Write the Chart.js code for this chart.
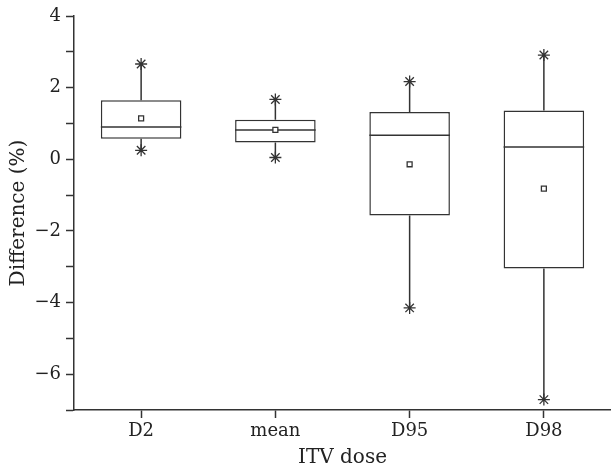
<!DOCTYPE html>
<html>
<head>
<meta charset="utf-8">
<script src="https://cdn.jsdelivr.net/npm/chart.js@4.4.1/dist/chart.umd.min.js"></script>
<style>
  html, body { margin: 0; padding: 0; background: #fff; }
  #wrap { width: 611px; height: 470px; }
</style>
</head>
<body>
<div id="wrap"><canvas id="boxChart" width="611" height="470"></canvas></div>
<script>
// Datos
const categories = ['D2', 'mean', 'D95', 'D98'];
const minValues = [0.25, 0.05, -4.15, -6.71];
const q1Values = [0.57, 0.47, -1.57, -3.05];
const medianValues = [0.9, 0.82, 0.67, 0.34];
const q3Values = [1.65, 1.10, 1.32, 1.36];
const maxValues = [2.66, 1.67, 2.17, 2.91];
const meanValues = [1.14, 0.82, -0.14, -0.82];
const yTickLabels = [-6, -4, -2, 0, 2, 4];

const lineColor = '#333';
const textColor = '#222';
const serif = "'DejaVu Serif', serif";

// Bigotes y medianas dibujados con las escalas del gráfico
const boxLines = {
    id: 'boxLines',
    beforeDatasetsDraw(chart) {
        const meta = chart.getDatasetMeta(chart.data.datasets.length - 1);
        const y = chart.scales.y;
        const ctx = chart.ctx;
        ctx.save();
        ctx.strokeStyle = lineColor;
        ctx.lineWidth = 1.5;
        meta.data.forEach((bar, i) => {
            ctx.beginPath();
            ctx.moveTo(bar.x, y.getPixelForValue(q3Values[i]));
            ctx.lineTo(bar.x, y.getPixelForValue(maxValues[i]));
            ctx.moveTo(bar.x, y.getPixelForValue(q1Values[i]));
            ctx.lineTo(bar.x, y.getPixelForValue(minValues[i]));
            ctx.stroke();
        });
        ctx.restore();
    },
    afterDatasetDraw(chart, args) {
        if (args.meta.type !== 'bar') return;
        const y = chart.scales.y;
        const ctx = chart.ctx;
        ctx.save();
        ctx.strokeStyle = lineColor;
        ctx.lineWidth = 1.5;
        args.meta.data.forEach((bar, i) => {
            const py = y.getPixelForValue(medianValues[i]);
            ctx.beginPath();
            ctx.moveTo(bar.x - bar.width / 2, py);
            ctx.lineTo(bar.x + bar.width / 2, py);
            ctx.stroke();
        });
        ctx.restore();
    }
};

new Chart(document.getElementById('boxChart'), {
    data: {
        labels: categories,
        datasets: [
            {
                type: 'line',
                data: meanValues,
                showLine: false,
                pointStyle: 'rect',
                pointRadius: 3.5,
                backgroundColor: '#fff',
                borderColor: lineColor,
                pointBorderWidth: 1.3,
                order: 1
            },
            {
                type: 'line',
                data: maxValues,
                showLine: false,
                pointStyle: 'star',
                pointRadius: 6,
                borderColor: lineColor,
                pointBorderWidth: 1.3,
                order: 2
            },
            {
                type: 'line',
                data: minValues,
                showLine: false,
                pointStyle: 'star',
                pointRadius: 6,
                borderColor: lineColor,
                pointBorderWidth: 1.3,
                order: 2
            },
            {
                type: 'bar',
                data: categories.map((c, i) => [q1Values[i], q3Values[i]]),
                backgroundColor: '#fff',
                borderColor: lineColor,
                borderWidth: 1.5,
                borderSkipped: false,
                barPercentage: 0.6,
                categoryPercentage: 1,
                order: 3
            }
        ]
    },
    options: {
        responsive: false,
        animation: false,
        layout: { autoPadding: false, padding: { top: 16, right: 0, left: 0, bottom: 0 } },
        plugins: {
            legend: { display: false },
            tooltip: { enabled: false }
        },
        scales: {
            x: {
                type: 'category',
                offset: true,
                grid: {
                    offset: false,
                    drawOnChartArea: false,
                    drawTicks: true,
                    tickLength: 8,
                    tickColor: lineColor,
                    tickWidth: 1.5
                },
                border: { display: true, color: lineColor, width: 1.5 },
                ticks: { color: textColor, font: { family: serif, size: 18 }, padding: 3 },
                title: {
                    display: true,
                    text: 'ITV dose',
                    color: textColor,
                    font: { family: serif, size: 20 },
                    padding: { top: 0, bottom: 0 }
                },
                afterFit: (scale) => {
                    scale.height = 60;
                    scale.paddingLeft = 0;
                    scale.paddingRight = 0;
                }
            },
            y: {
                min: -7,
                max: 4,
                grid: {
                    drawOnChartArea: false,
                    drawTicks: true,
                    tickLength: 8,
                    tickColor: lineColor,
                    tickWidth: 1.5
                },
                border: { display: true, color: lineColor, width: 1.5 },
                ticks: {
                    stepSize: 1,
                    autoSkip: false,
                    color: textColor,
                    padding: 5,
                    font: { family: serif, size: 18 },
                    callback: (v) => yTickLabels.includes(v) ? (v < 0 ? '\u2212' + Math.abs(v) : String(v)) : ''
                },
                title: {
                    display: true,
                    text: 'Difference (%)',
                    color: textColor,
                    font: { family: serif, size: 20 },
                    padding: { top: 7, bottom: 0 }
                },
                afterFit: (scale) => {
                    scale.width = 74;
                    scale.paddingTop = 0;
                    scale.paddingBottom = 0;
                }
            }
        }
    },
    plugins: [boxLines]
});
</script>
</body>
</html>
